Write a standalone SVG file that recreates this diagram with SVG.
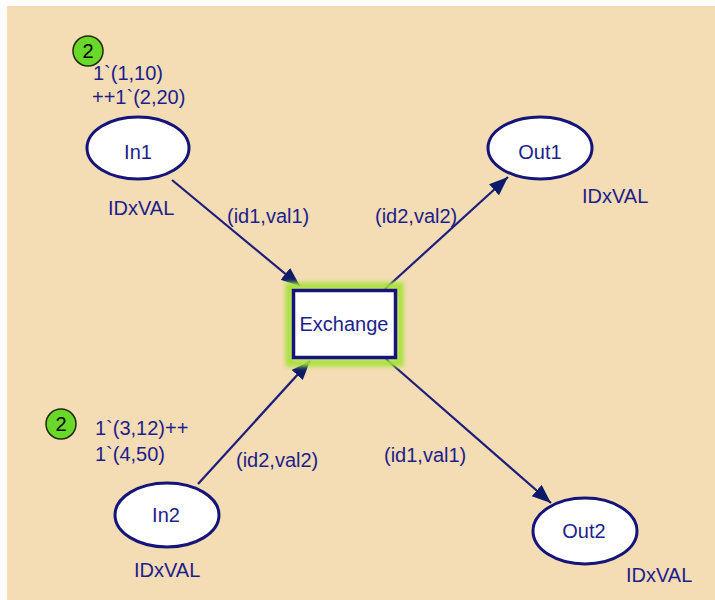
<svg xmlns="http://www.w3.org/2000/svg" width="715" height="600" viewBox="0 0 715 600">
<defs>
<style>
.lbl{font-family:"Liberation Sans",Arial,sans-serif;font-size:20px;fill:#1e1e8c}
.place{fill:#ffffff;stroke:#14147a;stroke-width:3}
.arc{stroke:#1e1e7a;stroke-width:2.2;fill:none}
.tok{fill:#6ad82a;stroke:#1f2a0c;stroke-width:1.5}
.tokt{font-family:"Liberation Sans",Arial,sans-serif;font-size:20px;fill:#000000}
</style>
<marker id="ah" markerUnits="userSpaceOnUse" markerWidth="22" markerHeight="16" refX="19" refY="7.5" orient="auto">
<path d="M0,0 L19,7.5 L0,15 Z" fill="#0c1a6a"/>
</marker>
<filter id="glow" x="-20%" y="-20%" width="140%" height="140%">
<feGaussianBlur stdDeviation="2"/>
</filter>
</defs>
<rect x="7" y="6" width="708" height="594" fill="#f4dcb4"/>
<g id="connectors">
<line class="arc" x1="172" y1="180" x2="300" y2="286" marker-end="url(#ah)"/>
<line class="arc" x1="385" y1="289" x2="508" y2="177" marker-end="url(#ah)"/>
<line class="arc" x1="198" y1="484" x2="310" y2="361" marker-end="url(#ah)"/>
<line class="arc" x1="386" y1="359" x2="551" y2="503" marker-end="url(#ah)"/>
<text class="lbl" x="227" y="223">(id1,val1)</text>
<text class="lbl" x="375" y="223">(id2,val2)</text>
<text class="lbl" x="236" y="467">(id2,val2)</text>
<text class="lbl" x="384" y="462">(id1,val1)</text>
</g>
<g id="In1">
<ellipse class="place" cx="138" cy="148" rx="51" ry="31"/>
<text class="lbl" x="138" y="159" text-anchor="middle">In1</text>
<text class="lbl" x="108" y="215">IDxVAL</text>
<circle class="tok" cx="88" cy="51" r="15"/>
<text class="tokt" x="88" y="58" text-anchor="middle">2</text>
<text class="lbl" x="93" y="80">1`(1,10)</text>
<text class="lbl" x="92" y="104">++1`(2,20)</text>
</g>
<g id="In2">
<ellipse class="place" cx="167" cy="515" rx="52" ry="32"/>
<text class="lbl" x="166" y="522" text-anchor="middle">In2</text>
<text class="lbl" x="134" y="577">IDxVAL</text>
<circle class="tok" cx="61" cy="424" r="15"/>
<text class="tokt" x="61" y="431" text-anchor="middle">2</text>
<text class="lbl" x="95" y="435">1`(3,12)++</text>
<text class="lbl" x="95" y="461">1`(4,50)</text>
</g>
<g id="Out1">
<ellipse class="place" cx="540" cy="148" rx="52" ry="31"/>
<text class="lbl" x="540" y="159" text-anchor="middle">Out1</text>
<text class="lbl" x="582" y="203">IDxVAL</text>
</g>
<g id="Out2">
<ellipse class="place" cx="585" cy="531" rx="52" ry="33"/>
<text class="lbl" x="584" y="538" text-anchor="middle">Out2</text>
<text class="lbl" x="626" y="582">IDxVAL</text>
</g>
<g id="Exchange">
<rect x="289" y="286" width="111" height="77" fill="none" stroke="#a6e23a" stroke-width="7" filter="url(#glow)"/>
<rect x="293.5" y="290.5" width="102" height="67" fill="#ffffff" stroke="#14147a" stroke-width="3.5"/>
<text class="lbl" x="344" y="331" text-anchor="middle">Exchange</text>
</g>
</svg>
